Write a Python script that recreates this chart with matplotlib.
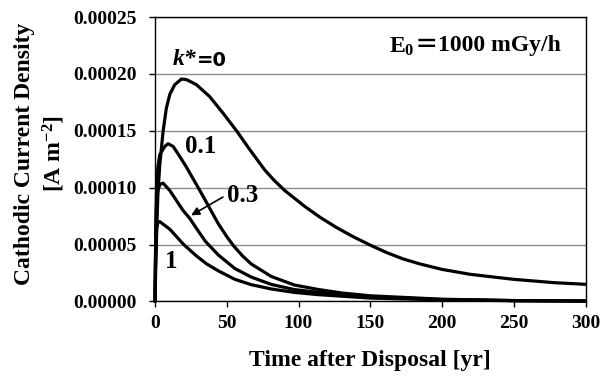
import matplotlib
matplotlib.use("Agg")
import matplotlib.pyplot as plt

# ---- data ----
t_k0 = [0, 0.5, 1, 2, 3.3, 5.6, 7.9, 10.3, 13.7, 18.4, 21.9, 28.9, 38.1, 47.4, 56.8, 66.0, 76.5, 83.0, 90.4,
        104.4, 115, 126.5, 138, 149.7, 161.4, 172.9, 184.6, 199.7, 219.5, 249.7, 277.5, 300]
j_k0 = [0, 3.0e-5, 5.5e-5, 9.5e-5, 1.20e-4, 1.495e-4, 1.70e-4, 1.82e-4, 1.905e-4, 1.955e-4, 1.95e-4, 1.905e-4,
        1.80e-4, 1.655e-4, 1.50e-4, 1.335e-4, 1.155e-4, 1.065e-4, 9.75e-5, 8.35e-5, 7.4e-5, 6.5e-5, 5.7e-5,
        4.97e-5, 4.3e-5, 3.74e-5, 3.3e-5, 2.83e-5, 2.39e-5, 1.95e-5, 1.66e-5, 1.51e-5]

t_k01 = [0, 0.5, 1, 2, 3.3, 6.8, 9.1, 12.6, 17.2, 21.9, 26, 31, 35, 44, 50, 55, 61, 67, 81, 97,
         114, 130, 150, 200, 250, 300]
j_k01 = [0, 6e-5, 9.5e-5, 1.18e-4, 1.29e-4, 1.363e-4, 1.386e-4, 1.363e-4, 1.275e-4, 1.18e-4, 1.09e-4, 9.8e-5,
         8.9e-5, 6.85e-5, 5.7e-5, 4.85e-5, 4.0e-5, 3.3e-5, 2.2e-5, 1.45e-5, 1.05e-5, 7.5e-6, 5e-6, 2e-6,
         8e-7, 4e-7]

t_k03 = [0, 0.5, 1, 2, 3.5, 5.6, 10.3, 19.5, 24.2, 29, 35, 44, 55.6, 67, 81, 97, 114, 130, 150, 200, 250, 300]
j_k03 = [0, 6e-5, 8.5e-5, 9.8e-5, 1.03e-4, 1.04e-4, 9.75e-5, 8.0e-5, 7.3e-5, 6.4e-5, 5.3e-5, 4.1e-5, 2.9e-5,
         2.15e-5, 1.5e-5, 1.05e-5, 8e-6, 6e-6, 4e-6, 1.7e-6, 8e-7, 4e-7]

t_k1 = [0, 0.5, 1, 2, 3.3, 10.3, 20, 28.9, 36, 44, 55.6, 67, 81, 97, 114, 150, 200, 250, 300]
j_k1 = [0, 5e-5, 6.4e-5, 6.95e-5, 7.02e-5, 6.35e-5, 5.0e-5, 4.0e-5, 3.3e-5, 2.7e-5, 1.95e-5, 1.48e-5,
        1.1e-5, 8e-6, 6e-6, 3e-6, 1.5e-6, 7e-7, 4e-7]

x_ticks = [0, 50, 100, 150, 200, 250, 300]
y_ticks = [0.0, 0.00005, 0.00010, 0.00015, 0.00020, 0.00025]
y_ticklabels = ["0.00000", "0.00005", "0.00010", "0.00015", "0.00020", "0.00025"]

plt.rcParams['font.family'] = ['Liberation Serif', 'DejaVu Sans']
plt.rcParams['font.weight'] = 'bold'
plt.rcParams['mathtext.fontset'] = 'custom'
plt.rcParams['mathtext.rm'] = 'Liberation Serif:bold'
plt.rcParams['mathtext.bf'] = 'Liberation Serif:bold'
plt.rcParams['mathtext.it'] = 'Liberation Serif:bold:italic'

fig = plt.figure(figsize=(6.08, 3.78), dpi=100)
ax = fig.add_axes([0.255, 0.2024, 0.708, 0.7526])

for t, j in [(t_k0, j_k0), (t_k01, j_k01), (t_k03, j_k03), (t_k1, j_k1)]:
    ax.plot(t, j, color='black', lw=2.3, solid_joinstyle='round', solid_capstyle='round',
            clip_on=False, zorder=3)

ax.set_xlim(0, 300)
ax.set_ylim(0, 0.00025)
ax.set_xticks(x_ticks)
ax.set_xticklabels([str(v) for v in x_ticks], fontsize=14, fontweight='bold')
ax.set_yticks(y_ticks)
ax.set_yticklabels(y_ticklabels, fontsize=14, fontweight='bold')
ax.tick_params(axis='both', direction='out', length=4, width=1, color='black')
ax.tick_params(axis='x', pad=6)
ax.tick_params(axis='y', pad=9)
ax.yaxis.grid(True, color='#8c8c8c', lw=1)
ax.set_axisbelow(True)
for s in ax.spines.values():
    s.set_color('black')
    s.set_linewidth(1.0)

ax.set_xlabel("Time after Disposal [yr]", fontsize=17, fontweight='bold', labelpad=13)
fig.text(0.041, 0.593, "Cathodic Current Density", rotation=90, fontsize=17, fontweight='bold',
         ha='center', va='center')
fig.text(0.088, 0.593, r"[A m$^{\mathbf{-2}}$]", rotation=90, fontsize=17, fontweight='bold',
         ha='center', va='center')

# annotations
tk = ax.text(12.5, 0.000213, "k*", fontsize=17, fontweight='bold', style='italic', ha='left', va='center')
ax.annotate("=0", xy=(1.0, 0.45), xycoords=tk, fontsize=14, fontweight='bold', family='DejaVu Sans',
            ha='left', va='center')
ax.text(21, 0.000136, "0.1", fontsize=18, fontweight='bold', ha='left', va='center')
ax.text(50, 0.0000935, "0.3", fontsize=18, fontweight='bold', ha='left', va='center')
ax.annotate("", xy=(23.5, 0.0000745), xytext=(49, 0.0000930),
            arrowprops=dict(arrowstyle='-|>', color='black', lw=1.2, mutation_scale=12))
ax.text(11, 0.0000355, "1", fontsize=18, fontweight='bold', ha='center', va='center')

te = ax.text(163, 0.000224, r"E$_{\mathbf{0}}$", fontsize=17, fontweight='bold', ha='left', va='center')
teq = ax.annotate("＝", xy=(1.0, 0.55), xycoords=te, fontsize=17, fontweight='bold',
                  family=['Noto Sans CJK JP', 'DejaVu Sans'], ha='left', va='center')
ax.annotate("1000 mGy/h", xy=(1.0, 0.5), xycoords=teq, fontsize=17, fontweight='bold',
            ha='left', va='center')

fig.savefig("out.png", dpi=100)
